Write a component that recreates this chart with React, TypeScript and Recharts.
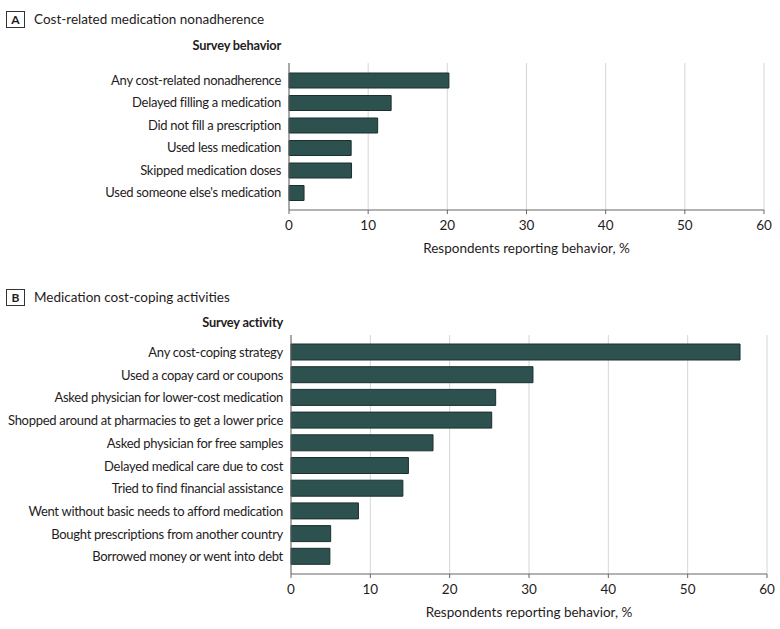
import React from "react";
import { BarChart, Bar, XAxis, YAxis, CartesianGrid, Label } from "recharts";

const categoriesA = [
  "Any cost-related nonadherence",
  "Delayed filling a medication",
  "Did not fill a prescription",
  "Used less medication",
  "Skipped medication doses",
  "Used someone else's medication",
];
const valuesA = [20.2, 12.9, 11.2, 7.85, 7.9, 1.9];

const categoriesB = [
  "Any cost-coping strategy",
  "Used a copay card or coupons",
  "Asked physician for lower-cost medication",
  "Shopped around at pharmacies to get a lower price",
  "Asked physician for free samples",
  "Delayed medical care due to cost",
  "Tried to find financial assistance",
  "Went without basic needs to afford medication",
  "Bought prescriptions from another country",
  "Borrowed money or went into debt",
];
const valuesB = [56.6, 30.5, 25.8, 25.3, 17.9, 14.8, 14.1, 8.5, 5.0, 4.9];

const xTicks = [0, 10, 20, 30, 40, 50, 60];
const axisTitle = "Respondents reporting behavior, %";

const FONT = "Lato, Roboto, 'Liberation Sans', sans-serif";
const FS = 13;
const TEXT = "#1f1c1d";
const BAR_FILL = "#2c514f";
const BAR_STROKE = "#1b2f2e";

const dataA = categoriesA.map((c, i) => ({ name: c, value: valuesA[i] }));
const dataB = categoriesB.map((c, i) => ({ name: c, value: valuesB[i] }));

function YTick(props: any) {
  const { x, y, payload } = props;
  return (
    <text
      x={x}
      y={y}
      dy="0.36em"
      textAnchor="end"
      fill={TEXT}
      fontSize={FS}
      fontFamily={FONT}
      style={{ letterSpacing: "-0.29px" }}
    >
      {payload.value}
    </text>
  );
}

function XTick(props: any) {
  const { x, y, payload } = props;
  return (
    <text x={x} y={y} dy="0.71em" textAnchor="middle" fill={TEXT} fontSize={13.5} fontFamily={FONT}>
      {payload.value}
    </text>
  );
}

function PanelTitle({ letter, text, top }: { letter: string; text: string; top: number }) {
  return (
    <>
      <div
        style={{
          position: "absolute",
          left: 6,
          top: top,
          width: 19,
          height: 17,
          border: "1px solid #333",
          boxSizing: "border-box",
          fontFamily: FONT,
          fontWeight: 700,
          fontSize: 12,
          lineHeight: "15px",
          textAlign: "center",
          color: TEXT,
        }}
      >
        {letter}
      </div>
      <div
        style={{
          position: "absolute",
          left: 34,
          top: top - 1,
          fontFamily: FONT,
          fontSize: 13.5,
          lineHeight: "18px",
          color: TEXT,
          whiteSpace: "nowrap",
        }}
      >
        {text}
      </div>
    </>
  );
}

function Header({ text, right, top }: { text: string; right: number; top: number }) {
  return (
    <div
      style={{
        position: "absolute",
        right: 780 - right,
        top,
        fontFamily: FONT,
        fontWeight: 700,
        fontSize: 12.8,
        letterSpacing: "-0.2px",
        lineHeight: "16px",
        color: TEXT,
        whiteSpace: "nowrap",
        textAlign: "right",
      }}
    >
      {text}
    </div>
  );
}

export default function App() {
  return (
    <div style={{ position: "absolute", left: 0, top: 0, width: 780, height: 629, background: "#fff", overflow: "hidden" }}>
      <PanelTitle letter="A" text="Cost-related medication nonadherence" top={11} />
      <Header text="Survey behavior" right={281} top={37} />
      <div style={{ position: "absolute", left: 0, top: 0 }}>
        <BarChart
          width={780}
          height={260}
          data={dataA}
          layout="vertical"
          margin={{ top: 63, right: 16, bottom: 0, left: 0 }}
        >
          <CartesianGrid horizontal={false} stroke="#d6d6d6" />
          <XAxis
            type="number"
            domain={[0, 60]}
            ticks={xTicks}
            height={50}
            tickSize={4}
            tickMargin={6}
            tick={<XTick />}
            stroke="#666"
            interval={0}
          >
            <Label value={axisTitle} position="insideBottom" offset={7} style={{ fill: TEXT, fontSize: 13.5, fontFamily: FONT }} />
          </XAxis>
          <YAxis
            type="category"
            dataKey="name"
            width={289}
            tickLine={false}
            tickSize={6}
            tickMargin={2}
            tick={<YTick />}
            stroke="#666"
            padding={{ top: 6, bottom: 6 }}
            interval={0}
          />
          <Bar dataKey="value" fill={BAR_FILL} stroke={BAR_STROKE} strokeWidth={1} barSize={15} isAnimationActive={false} />
        </BarChart>
      </div>

      <PanelTitle letter="B" text="Medication cost-coping activities" top={289} />
      <Header text="Survey activity" right={283} top={314} />
      <div style={{ position: "absolute", left: 0, top: 260 }}>
        <BarChart
          width={780}
          height={369}
          data={dataB}
          layout="vertical"
          margin={{ top: 75, right: 13, bottom: 0, left: 0 }}
        >
          <CartesianGrid horizontal={false} stroke="#d6d6d6" />
          <XAxis
            type="number"
            domain={[0, 60]}
            ticks={xTicks}
            height={55}
            tickSize={4}
            tickMargin={6}
            tick={<XTick />}
            stroke="#666"
            interval={0}
          >
            <Label value={axisTitle} position="insideBottom" offset={12} style={{ fill: TEXT, fontSize: 13.5, fontFamily: FONT }} />
          </XAxis>
          <YAxis
            type="category"
            dataKey="name"
            width={291}
            tickLine={false}
            tickSize={6}
            tickMargin={2}
            tick={<YTick />}
            stroke="#666"
            padding={{ top: 6, bottom: 6 }}
            interval={0}
          />
          <Bar dataKey="value" fill={BAR_FILL} stroke={BAR_STROKE} strokeWidth={1} barSize={16} isAnimationActive={false} />
        </BarChart>
      </div>
    </div>
  );
}
